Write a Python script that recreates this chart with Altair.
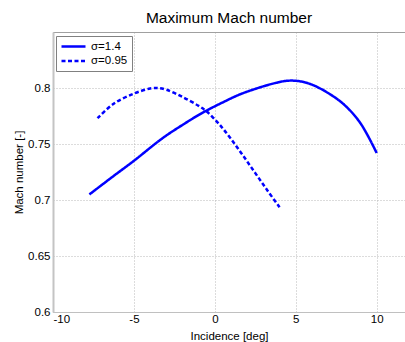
import altair as alt
import pandas as pd

series_names = ["σ=1.4", "σ=0.95"]
inc_14 = [-7.75, -6.25, -5.0, -3.25, -2.0, -0.75, 0.75, 1.5, 2.25, 3.0, 3.75, 4.5, 5.25, 6.0, 7.0, 8.0, 9.0, 10.0]
mach_14 = [0.705, 0.7215, 0.735, 0.755, 0.767, 0.778, 0.789, 0.794, 0.798, 0.8015, 0.8045, 0.8065, 0.806, 0.803, 0.7955, 0.785, 0.7685, 0.742]
inc_095 = [-7.25, -6.25, -5.0, -4.0, -3.5, -3.0, -2.0, -1.0, -0.5, 0.25, 1.0, 1.75, 2.5, 3.25, 4.0]
mach_095 = [0.773, 0.786, 0.795, 0.7995, 0.800, 0.7985, 0.792, 0.784, 0.779, 0.768, 0.7545, 0.7395, 0.724, 0.7085, 0.6935]
x_ticks = [-10, -5, 0, 5, 10]
y_ticks = [0.6, 0.65, 0.7, 0.75, 0.8]

rows = []
for x, y in zip(inc_14, mach_14):
    rows.append({"inc": x, "mach": y, "series": series_names[0]})
for x, y in zip(inc_095, mach_095):
    rows.append({"inc": x, "mach": y, "series": series_names[1]})
df = pd.DataFrame(rows)

FONT = "Liberation Sans"
xscale = alt.Scale(domain=[-10, 11.75], nice=False, zero=False)
yscale = alt.Scale(domain=[0.6, 0.85], nice=False, zero=False)

lines = alt.Chart(df).mark_line(
    color="#0000ff", strokeWidth=2.5, interpolate="catmull-rom"
).encode(
    x=alt.X("inc:Q", scale=xscale, axis=alt.Axis(
        values=x_ticks, labelExpr="'' + datum.value", title="Incidence [deg]",
        grid=True, gridDash=[1, 2], gridColor="#b8b8b8", ticks=False,
        domainColor="#c0c0c0", domainWidth=1, labelPadding=1, titlePadding=6,
        labelFont=FONT, labelFontSize=11.5, titleFont=FONT, titleFontSize=11.5,
        titleFontWeight="normal", labelColor="#000000", titleColor="#000000")),
    y=alt.Y("mach:Q", scale=yscale, axis=alt.Axis(
        values=y_ticks, labelExpr="'' + datum.value", title="Mach number [-]",
        grid=True, gridDash=[1, 2], gridColor="#b8b8b8", ticks=False,
        domainColor="#c4c4c4", domainWidth=2, labelPadding=3, titlePadding=3,
        labelFont=FONT, labelFontSize=11.5, titleFont=FONT, titleFontSize=11.5,
        titleFontWeight="normal", labelColor="#000000", titleColor="#000000")),
    strokeDash=alt.StrokeDash("series:N", scale=alt.Scale(
        domain=series_names, range=[[1, 0], [4, 2.5]]), legend=alt.Legend(
        title=None, orient="none", legendX=3, legendY=4,
        symbolType="M-1,0H3.8", symbolSize=100, symbolStrokeColor="#0000ff",
        symbolStrokeWidth=2.5, labelOffset=18, padding=4, rowPadding=2.5,
        strokeColor="#808080", fillColor="#ffffff",
        labelFont=FONT, labelFontSize=11.5, labelColor="#000000")),
)

top = alt.Chart(df).mark_point(opacity=0).encode(
    x=alt.X("inc:Q", scale=xscale, axis=alt.Axis(
        orient="top", labels=False, ticks=False, grid=False, title=None,
        domainColor="#a0a0a0", domainWidth=1)),
    y=alt.Y("mach:Q", scale=yscale),
)

chart = alt.layer(lines, top).resolve_axis(x="independent").properties(
    width=352, height=280,
    title=alt.Title("Maximum Mach number", font=FONT, fontSize=15.5,
                    fontWeight="normal", color="#000000", offset=10, dy=16,
                    baseline="alphabetic", anchor="middle"),
    autosize=alt.AutoSizeParams(type="none"),
    padding={"left": 53, "top": 32, "right": 0, "bottom": 30},
).configure_view(stroke=None).configure(background="#ffffff")

chart.save("out.html", embed_options={"renderer": "svg", "actions": False})
